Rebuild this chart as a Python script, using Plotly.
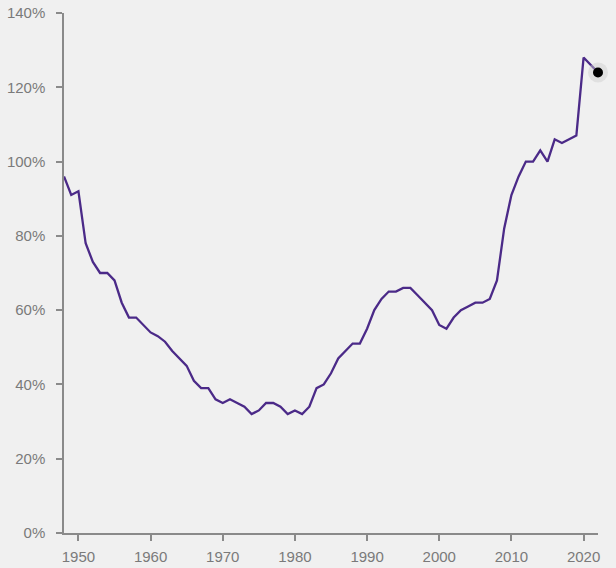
import plotly.graph_objects as go

years = list(range(1948, 2023))
debt_pct = [
    96, 91, 92, 78, 73, 70, 70, 68, 62, 58,      # 1948-1957
    58, 56, 54, 53, 51.5, 49, 47, 45, 41, 39,    # 1958-1967
    39, 36, 35, 36, 35, 34, 32, 33, 35, 35,      # 1968-1977
    34, 32, 33, 32, 34, 39, 40, 43, 47, 49,      # 1978-1987
    51, 51, 55, 60, 63, 65, 65, 66, 66, 64,      # 1988-1997
    62, 60, 56, 55, 58, 60, 61, 62, 62, 63,      # 1998-2007
    68, 82, 91, 96, 100, 100, 103, 100, 106, 105,  # 2008-2017
    106, 107, 128, 126, 124                      # 2018-2022
]
y_ticks = [0, 20, 40, 60, 80, 100, 120, 140]
x_ticks = [1950, 1960, 1970, 1980, 1990, 2000, 2010, 2020]

line_color = "#4b2a88"
axis_color = "#8a8a8a"
text_color = "#7a7a7a"

fig = go.Figure()
fig.add_trace(go.Scatter(
    x=years, y=debt_pct, mode="lines",
    line=dict(color=line_color, width=2.3),
    hoverinfo="skip", showlegend=False,
))
fig.add_trace(go.Scatter(
    x=[years[-1]], y=[debt_pct[-1]], mode="markers",
    marker=dict(color="rgba(205,205,205,0.45)", size=20, line=dict(width=0)),
    hoverinfo="skip", showlegend=False, cliponaxis=False,
))
fig.add_trace(go.Scatter(
    x=[years[-1]], y=[debt_pct[-1]], mode="markers",
    marker=dict(color="black", size=10, line=dict(width=0)),
    hoverinfo="skip", showlegend=False, cliponaxis=False,
))

fig.update_layout(
    width=616, height=568,
    margin=dict(l=64, r=18, t=13, b=35, autoexpand=False),
    paper_bgcolor="#f0f0f0", plot_bgcolor="#f0f0f0",
    font=dict(family="Liberation Sans, Arial, sans-serif", size=15, color=text_color),
    showlegend=False,
)
fig.update_xaxes(
    range=[1948, 2022], tickvals=x_ticks, ticktext=[str(v) for v in x_ticks],
    showgrid=False, zeroline=False, showline=True, linecolor=axis_color, linewidth=1.5,
    ticks="outside", ticklen=6, tickcolor=axis_color, tickwidth=1.5,
    tickfont=dict(size=15, color=text_color), automargin=False, ticklabelstandoff=3,
)
fig.update_yaxes(
    range=[0, 140], tickvals=y_ticks, ticktext=[f"{v}%" for v in y_ticks],
    showgrid=False, zeroline=False, showline=True, linecolor=axis_color, linewidth=1.5,
    ticks="outside", ticklen=6, tickcolor=axis_color, tickwidth=1.5,
    tickfont=dict(size=15, color=text_color), automargin=False, ticklabelstandoff=8,
)

fig.write_html(
    "out.html",
    config={"displayModeBar": False},
    post_script="document.body.style.margin='0';document.body.style.background='#f0f0f0';",
)
